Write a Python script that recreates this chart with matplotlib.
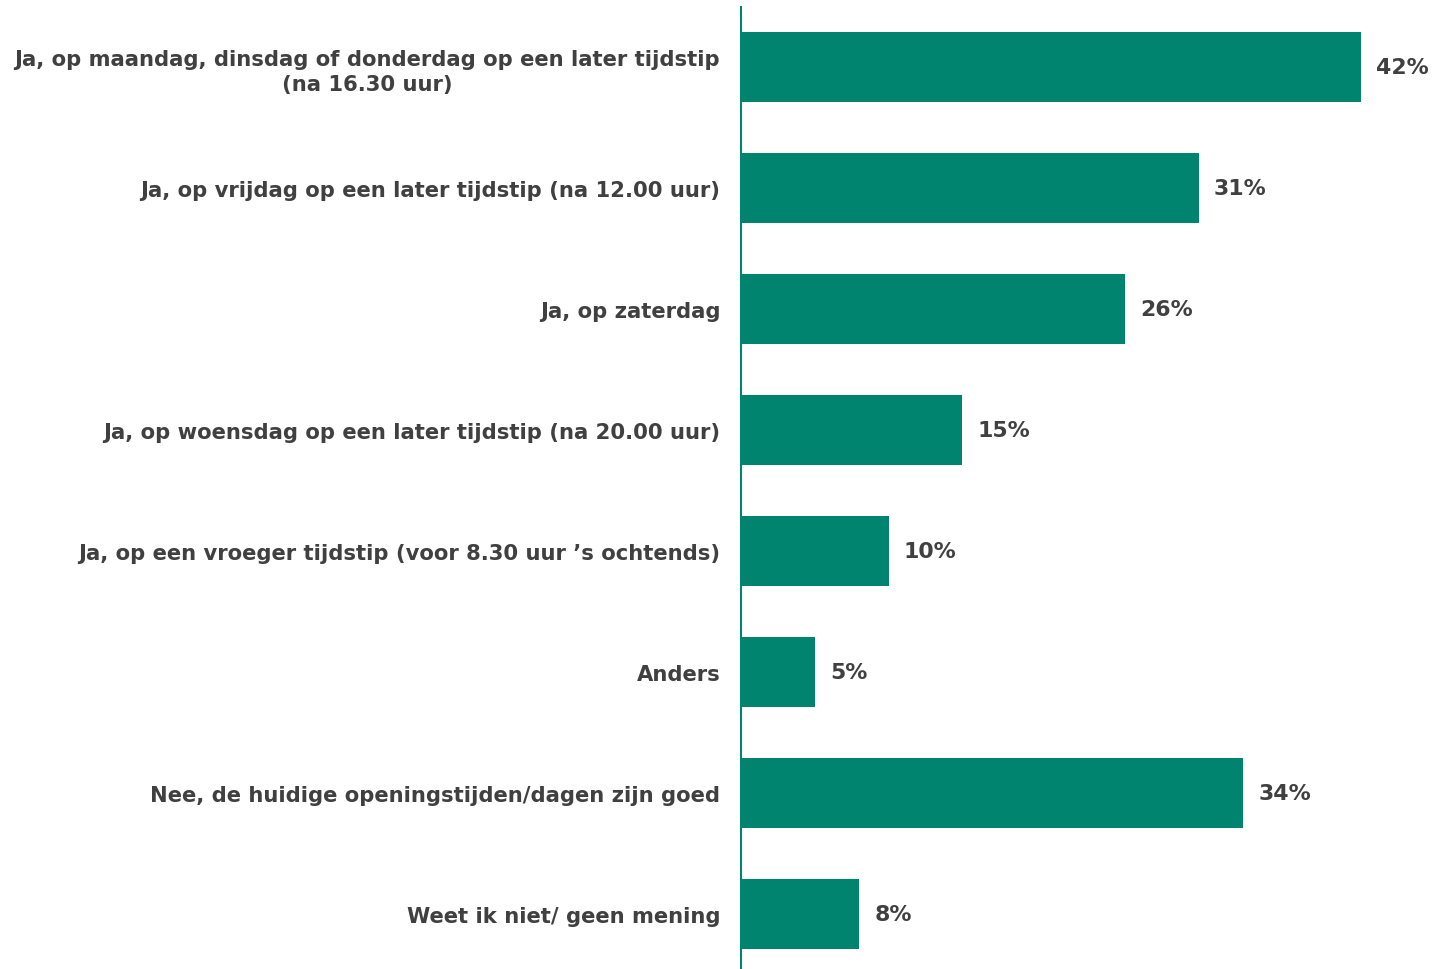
import matplotlib.pyplot as plt
import numpy as np

categories = [
    "Ja, op maandag, dinsdag of donderdag op een later tijdstip\n(na 16.30 uur)",
    "Ja, op vrijdag op een later tijdstip (na 12.00 uur)",
    "Ja, op zaterdag",
    "Ja, op woensdag op een later tijdstip (na 20.00 uur)",
    "Ja, op een vroeger tijdstip (voor 8.30 uur \u2019s ochtends)",
    "Anders",
    "Nee, de huidige openingstijden/dagen zijn goed",
    "Weet ik niet/ geen mening",
]
percentages = [42, 31, 26, 15, 10, 5, 34, 8]

bar_color = "#00846F"
text_color = "#404040"

plt.rcParams['font.family'] = ['DejaVu Sans']

fig = plt.figure(figsize=(14.35, 9.7), dpi=100)
ax = fig.add_axes([741 / 1435, 0, 694 / 1435, 962 / 970])

y = np.arange(len(categories))
ax.barh(y, percentages, height=0.58, color=bar_color, zorder=2)

ax.set_xlim(0, 47.0)
ax.set_ylim(7.455, -0.496)

for yi, v in zip(y, percentages):
    ax.annotate(f"{v}%", (v, yi), xytext=(11, 0), textcoords="offset points",
                ha="left", va="center", fontsize=15.8, fontweight="bold",
                color=text_color)

ax.set_yticks(y)
ax.set_yticklabels(categories, fontsize=15.2, fontweight="bold",
                   color=text_color, ha="right", multialignment="center",
                   linespacing=1.3)
ax.tick_params(axis="y", length=0, pad=15)
ax.set_xticks([])

for side in ["top", "right", "bottom"]:
    ax.spines[side].set_visible(False)
ax.spines["left"].set_color(bar_color)
ax.spines["left"].set_linewidth(1.5)

fig.savefig("out.png", dpi=100)
